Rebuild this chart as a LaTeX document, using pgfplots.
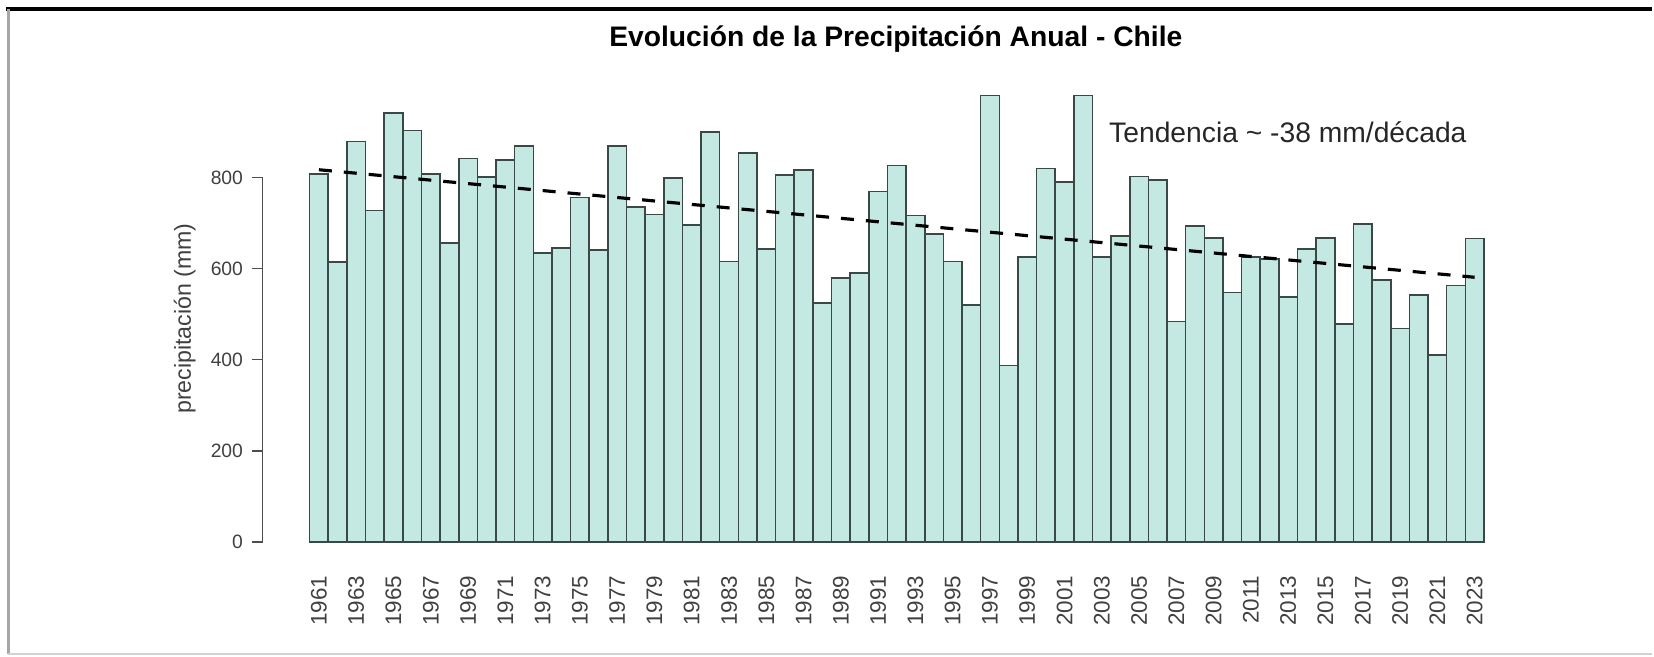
\documentclass[border=0pt]{standalone}
\usepackage{fontspec}
\setmainfont{Liberation Sans}
\usepackage{pgfplots}
\pgfplotsset{compat=1.18}

\definecolor{barfill}{HTML}{C4E8E2}
\definecolor{baredge}{HTML}{3A4846}
\definecolor{axisgray}{HTML}{4D4D4D}
\definecolor{labgray}{HTML}{404040}

\begin{document}
\begin{tikzpicture}[x=0.1mm,y=0.1mm]
  \path (0,0) rectangle (1654,657);
  % screenshot frame
  \draw[black, line width=0.45mm] (6,648) -- (1654,648);
  \draw[gray!70, line width=0.25mm] (8.5,648) -- (8.5,2);
  \draw[gray!35, line width=0.2mm] (8.5,2) -- (1654,2);

  \begin{axis}[
      at={(26.3mm,11.43mm)},
      anchor=south west,
      scale only axis,
      width=127mm,
      height=36.5mm,
      xmin=1957.98, xmax=2026.02,
      ymin=0, ymax=800,
      clip=false,
      axis y line*=left,
      axis x line*=bottom,
      x axis line style={draw=none},
      y axis line style={axisgray, line width=0.15mm},
      ytick={0,200,400,600,800},
      xtick={1961,1963,...,2023},
      xtick align=inside,
      ytick align=outside,
      major tick length=1.1mm,
      xtick style={draw=none},
      ytick style={axisgray, line width=0.15mm},
      /pgf/number format/assume math mode=true,
      /pgf/number format/set thousands separator={},
      yticklabel style={font=\fontsize{5.5}{6.5}\selectfont, text=labgray, inner sep=0pt},
      xticklabel style={font=\fontsize{6.4}{7.5}\selectfont, text=labgray,
                        rotate=90, anchor=east, inner sep=0pt},
      xticklabel shift=3.3mm,
      yticklabel shift=0.8mm,
  ]

  % precipitacion anual (mm)
  \addplot[ybar, bar width=1, fill=barfill, draw=baredge, line width=0.45pt] coordinates {
    (1961,808) (1962,615) (1963,879) (1964,728) (1965,941) (1966,903) (1967,808)
    (1968,656) (1969,842) (1970,801) (1971,839) (1972,869) (1973,634) (1974,645)
    (1975,756) (1976,641) (1977,869) (1978,735) (1979,719) (1980,799) (1981,696)
    (1982,900) (1983,616) (1984,854) (1985,643) (1986,805) (1987,816) (1988,525)
    (1989,579) (1990,591) (1991,769) (1992,826) (1993,717) (1994,676) (1995,616)
    (1996,520) (1997,980) (1998,387) (1999,626) (2000,820) (2001,790) (2002,980)
    (2003,626) (2004,672) (2005,802) (2006,794) (2007,484) (2008,694) (2009,667)
    (2010,548) (2011,625) (2012,621) (2013,538) (2014,643) (2015,667) (2016,479)
    (2017,698) (2018,575) (2019,469) (2020,542) (2021,411) (2022,563) (2023,666)
  };

  % tendencia lineal
  \addplot[black, line width=0.9pt, dash pattern=on 1.3mm off 1.2mm] coordinates {
    (1961,817) (2023,581)
  };

  \end{axis}

  \node[anchor=base, font=\bfseries\fontsize{8.05}{9.6}\selectfont] at (897,610)
    {Evolución de la Precipitación Anual - Chile};
  \node[anchor=base west, inner sep=0pt, font=\fontsize{8.05}{9.5}\selectfont, text=black!85] at (1110,514)
    {Tendencia \textasciitilde{} -38 mm/década};
  \node[rotate=90, font=\fontsize{6.6}{7.8}\selectfont, text=labgray] at (185,338)
    {precipitación (mm)};
\end{tikzpicture}
\end{document}
